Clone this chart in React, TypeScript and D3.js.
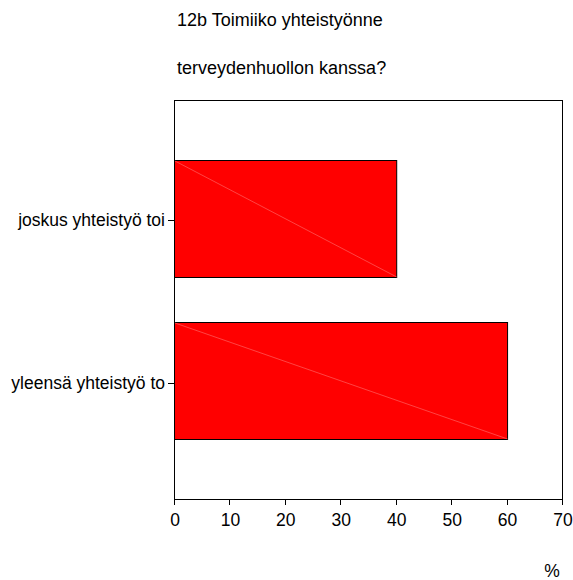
import React from "react";
import * as d3 from "d3";

const categories = ["joskus yhteistyö toi", "yleensä yhteistyö to"];
const values = [40, 60];
const xTicks = [0, 10, 20, 30, 40, 50, 60, 70];
const titleLines = ["12b Toimiiko yhteistyönne", "terveydenhuollon kanssa?"];
const xLabel = "%";

export default function App() {
  const W = 573, H = 580;
  const left = 175, right = 563, top = 100, bottom = 499;
  const x = d3.scaleLinear().domain([0, 70]).range([left, right]);
  const y = d3.scaleBand<string>().domain(categories).range([top, bottom]).paddingInner(0.28).paddingOuter(0.37);
  const font = "Arial, 'Liberation Sans', sans-serif";
  return (
    <svg width={W} height={H} style={{ position: "absolute", left: 0, top: 0, background: "#fff" }} fontFamily={font}>
      <rect x={0} y={0} width={W} height={H} fill="#fff" />
      {titleLines.map((t, i) => (
        <text key={i} x={177} y={26 + i * 48} fontSize={18} fill="#000">{t}</text>
      ))}
      <rect x={left - 0.5} y={top + 0.5} width={right - left} height={bottom - top} fill="none" stroke="#000" strokeWidth={1} />
      {categories.map((c, i) => {
        const y0 = y(c)!;
        const bw = y.bandwidth();
        const x1 = x(values[i]);
        const cy = Math.round(y0 + bw / 2) + 2;
        return (
          <g key={c}>
            <rect x={x(0) - 0.5} y={Math.round(y0) + 0.5} width={x1 - x(0) + 0.5} height={Math.round(bw)} fill="#ff0000" stroke="#000" strokeWidth={1} />
            <line x1={x(0)} y1={Math.round(y0) + 1} x2={x1} y2={Math.round(y0) + Math.round(bw)} stroke="#ff7070" strokeWidth={0.6} />
            <line x1={left - 7} x2={left} y1={cy + 0.5} y2={cy + 0.5} stroke="#000" />
            <text x={left - 10} y={cy} dy="0.35em" textAnchor="end" fontSize={17.5} fill="#000">{c}</text>
          </g>
        );
      })}
      {xTicks.map((t) => (
        <g key={t}>
          <line x1={Math.round(x(t)) - 0.5} x2={Math.round(x(t)) - 0.5} y1={bottom} y2={bottom + 6} stroke="#000" />
          <text x={x(t)} y={526} textAnchor="middle" fontSize={17.5} fill="#000">{t}</text>
        </g>
      ))}
      <text x={552} y={577} textAnchor="middle" fontSize={17.5} fill="#000">{xLabel}</text>
    </svg>
  );
}
